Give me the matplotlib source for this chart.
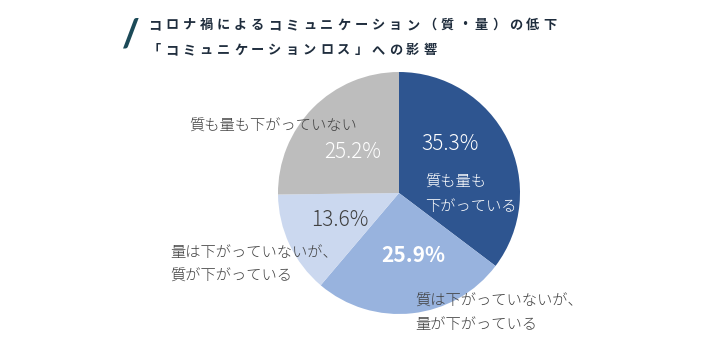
import matplotlib
matplotlib.use("Agg")
import matplotlib.pyplot as plt

plt.rcParams['font.family'] = ['Noto Sans CJK JP', 'DejaVu Sans']

title_lines = ["コロナ禍によるコミュニケーション（質・量）の低下", "「コミュニケーションロス」への影響"]
categories = ["質も量も\n下がっている", "質は下がっていないが、\n量が下がっている",
              "量は下がっていないが、\n質が下がっている", "質も量も下がっていない"]
values = [35.3, 25.9, 13.6, 25.2]
pct_labels = ["35.3%", "25.9%", "13.6%", "25.2%"]
colors = ["#2E5590", "#98B3DE", "#CBD8EF", "#BDBDBD"]

W, H = 720, 346
fig = plt.figure(figsize=(W / 100, H / 100), dpi=100)
fig.patch.set_facecolor("white")

def fx(x):
    return x / W

def fy(y):
    return 1 - y / H

cx, cy, r = 399, 193, 121
ax = fig.add_axes([fx(cx - r), fy(cy + r), 2 * r / W, 2 * r / H])
ax.pie(values, colors=colors, startangle=90, counterclock=False,
       wedgeprops=dict(linewidth=0))
ax.set_aspect("equal")
ax.set_xlim(-1, 1)
ax.set_ylim(-1, 1)
ax.axis("off")

# Title with slash mark (letter-spaced, one glyph at a time)
fig.text(fx(131), fy(34), "/", fontsize=27, fontweight=900, color="#1C4A58",
         ha="center", va="center", family="Lato")
pitch = 17.2
for line, ty in zip(title_lines, [25, 50]):
    for i, ch in enumerate(line):
        fig.text(fx(148 + pitch * i + pitch / 2 - 2), fy(ty), ch, fontsize=9.5,
                 fontweight="bold", color="#1F2D3D", ha="center", va="center")

# Percentages
num_kw = dict(fontsize=15, ha="center", va="center")
fig.text(fx(450), fy(144), pct_labels[0], color="white", fontweight=300, **num_kw)
fig.text(fx(413), fy(256), pct_labels[1], color="white", fontweight="bold", **num_kw)
fig.text(fx(340), fy(220), pct_labels[2], color="#404040", fontweight=300, **num_kw)
fig.text(fx(353), fy(152), pct_labels[3], color="white", fontweight=300, **num_kw)

# Category labels (each line placed separately)
def label(text, x, ys, color):
    for ln, y in zip(text.split("\n"), ys):
        fig.text(fx(x), fy(y), ln, fontsize=11, color=color, ha="left", va="center",
                 fontweight=300)

label(categories[0], 425, [183, 207], "white")
label(categories[1], 415, [302, 325], "#404040")
label(categories[2], 170, [253, 277], "#404040")
label(categories[3], 189, [127], "#404040")

fig.savefig("out.png", dpi=100)
